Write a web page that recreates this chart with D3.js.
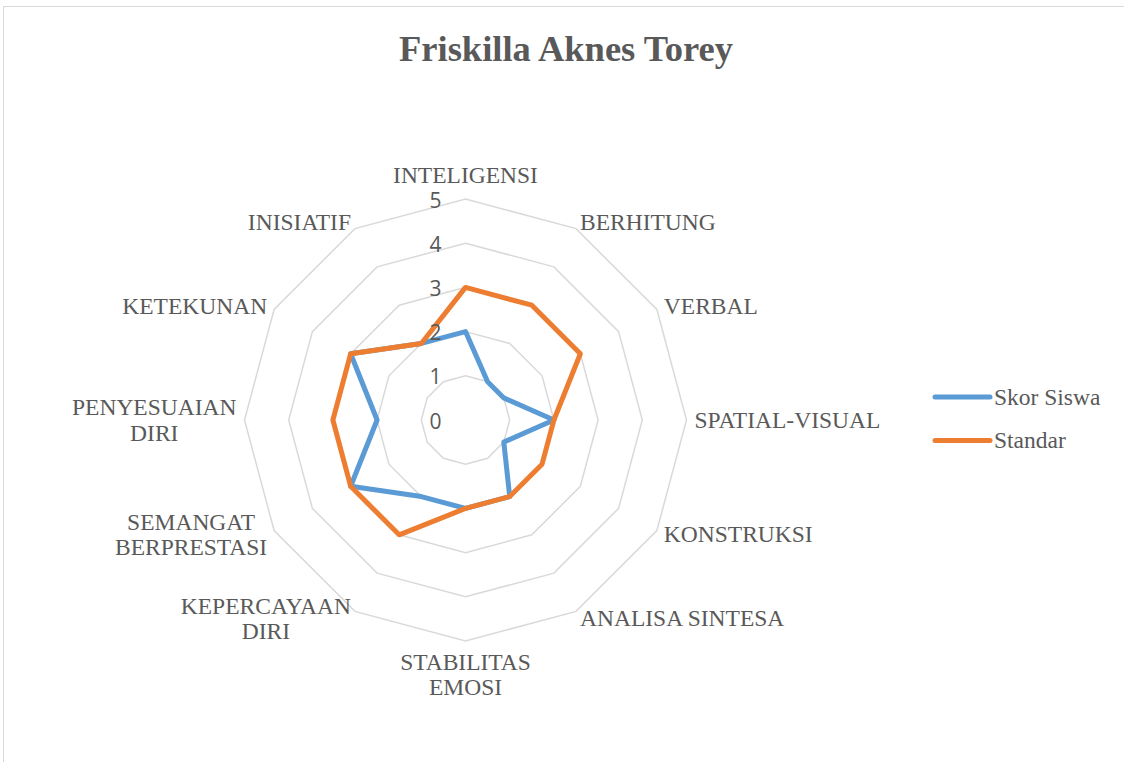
<!DOCTYPE html>
<html>
<head>
<meta charset="utf-8">
<script src="https://d3js.org/d3.v7.min.js"></script>
<title>Friskilla Aknes Torey</title>
<style>
  body { margin: 0; background: #fff; }
  svg { display: block; }
</style>
</head>
<body>
<script>
const categories = ['INTELIGENSI', 'BERHITUNG', 'VERBAL', 'SPATIAL-VISUAL', 'KONSTRUKSI',
  'ANALISA SINTESA', 'STABILITAS EMOSI', 'KEPERCAYAAN DIRI', 'SEMANGAT BERPRESTASI',
  'PENYESUAIAN DIRI', 'KETEKUNAN', 'INISIATIF']
// how the long labels wrap in the picture
const labelLines = [['INTELIGENSI'], ['BERHITUNG'], ['VERBAL'], ['SPATIAL-VISUAL'], ['KONSTRUKSI'],
  ['ANALISA SINTESA'], ['STABILITAS', 'EMOSI'], ['KEPERCAYAAN', 'DIRI'], ['SEMANGAT', 'BERPRESTASI'],
  ['PENYESUAIAN', 'DIRI'], ['KETEKUNAN'], ['INISIATIF']]
const skorSiswa = [2, 1, 1, 2, 1, 2, 2, 2, 3, 2, 3, 2]
const standar = [3, 3, 3, 2, 2, 2, 2, 3, 3, 3, 3, 2]
const ticks = [0, 1, 2, 3, 4, 5]
const seriesNames = ['Skor Siswa', 'Standar']
const colors = ['#5b9bd5', '#ed7d31']

const width = 1124
const height = 762
const cx = 465.5
const cy = 420
const R = 221
const textColor = '#595959'
const serif = '"Liberation Serif", "Times New Roman", serif'

const svg = d3.select('body')
  .append('svg')
    .attr('width', width)
    .attr('height', height)

// chart frame
svg.append('rect')
  .attr('x', 3.5).attr('y', 6.5)
  .attr('width', 1140).attr('height', 780)
  .attr('fill', '#fff')
  .attr('stroke', '#d9d9d9')
  .attr('stroke-width', 1)

svg.append('text')
  .attr('x', 566).attr('y', 61)
  .attr('text-anchor', 'middle')
  .attr('font-family', serif)
  .attr('font-weight', 'bold')
  .attr('font-size', 36.5)
  .attr('fill', textColor)
  .text('Friskilla Aknes Torey')

const angle = d3.scalePoint()
  .domain(categories)
  .range([0, 2 * Math.PI * (categories.length - 1) / categories.length])
const r = d3.scaleLinear().domain([0, 5]).range([0, R])

const g = svg.append('g').attr('transform', `translate(${cx},${cy})`)

// grid rings
const ringLine = d3.lineRadial()
  .angle(d => angle(d))
  .curve(d3.curveLinearClosed)

g.selectAll('.ring')
  .data(ticks.slice(1))
  .enter()
  .append('path')
    .attr('class', 'ring')
    .attr('d', t => ringLine.radius(r(t))(categories))
    .attr('fill', 'none')
    .attr('stroke', '#d9d9d9')
    .attr('stroke-width', 1.5)

// series
const seriesLine = d3.lineRadial()
  .angle((d, i) => angle(categories[i]))
  .radius(d => r(d))
  .curve(d3.curveLinearClosed)

g.selectAll('.series')
  .data([skorSiswa, standar])
  .enter()
  .append('path')
    .attr('class', 'series')
    .attr('d', d => seriesLine(d))
    .attr('fill', 'none')
    .attr('stroke', (d, i) => colors[i])
    .attr('stroke-width', 5)
    .attr('stroke-linejoin', 'round')

// tick labels
g.selectAll('.tick')
  .data(ticks)
  .enter()
  .append('text')
    .attr('class', 'tick')
    .attr('x', -24)
    .attr('y', t => -r(t) + 1)
    .attr('dy', '0.36em')
    .attr('text-anchor', 'end')
    .attr('font-family', '"Open Sans", sans-serif')
    .attr('font-size', 21)
    .attr('fill', textColor)
    .text(t => t)

// category labels
const fs = 23.5
const lh = 25.5
categories.forEach((c, i) => {
  const a = angle(c)
  const sx = Math.sin(a), cy_ = -Math.cos(a)
  const px = (R + 8) * sx
  const py = (R + 8) * cy_
  const lines = labelLines[i]
  const lab = g.append('g')
  const texts = lab.selectAll('text')
    .data(lines)
    .enter()
    .append('text')
      .attr('font-family', serif)
      .attr('font-size', fs)
      .attr('fill', textColor)
      .attr('text-anchor', 'middle')
      .text(d => d)
  const w = d3.max(texts.nodes(), n => n.getComputedTextLength())
  const h = lines.length * lh
  let bx
  if (Math.abs(sx) < 0.01) bx = px
  else if (sx > 0) bx = px + w / 2
  else bx = px - w / 2
  let by
  if (Math.abs(sx) < 0.01) by = cy_ < 0 ? py - h / 2 - 3 : py + h / 2
  else by = py
  texts
    .attr('x', bx)
    .attr('y', (d, j) => by - h / 2 + lh * j + lh / 2)
    .attr('dy', '0.34em')
})

// legend
const legend = svg.append('g').attr('transform', 'translate(935,397)')
seriesNames.forEach((s, i) => {
  legend.append('line')
    .attr('x1', 0).attr('x2', 55)
    .attr('y1', i * 43.5).attr('y2', i * 43.5)
    .attr('stroke', colors[i])
    .attr('stroke-width', 5)
    .attr('stroke-linecap', 'round')
  legend.append('text')
    .attr('x', 59)
    .attr('y', i * 43.5)
    .attr('dy', '0.34em')
    .attr('font-family', serif)
    .attr('font-size', fs)
    .attr('fill', textColor)
    .text(s)
})
</script>
</body>
</html>
